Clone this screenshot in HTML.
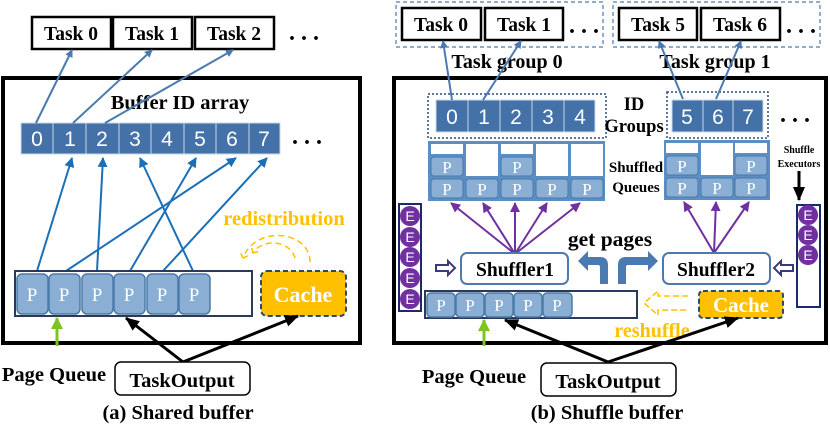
<!DOCTYPE html>
<html><head><style>
body{margin:0;background:#fff}
svg{display:block}
text{font-family:"Liberation Serif",serif;font-weight:bold}
.s{font-family:"Liberation Sans",sans-serif;font-weight:normal}
.n{font-weight:normal}
</style></head><body>
<svg width="830" height="426" viewBox="0 0 830 426" xmlns="http://www.w3.org/2000/svg">
<defs>
<marker id="ab" markerWidth="8" markerHeight="8" refX="7" refY="4" orient="auto" markerUnits="userSpaceOnUse"><path d="M0,0 L8,4 L0,8 z" fill="#4a7ab0"/></marker>
<marker id="ab2" markerWidth="10" markerHeight="10" refX="9" refY="5" orient="auto" markerUnits="userSpaceOnUse"><path d="M0,0 L10,5 L0,10 z" fill="#1a70b8"/></marker>
<marker id="ak" markerWidth="14" markerHeight="12" refX="13" refY="6" orient="auto" markerUnits="userSpaceOnUse"><path d="M0,0 L14,6 L0,12 z" fill="#000"/></marker>
<marker id="ag" markerWidth="12" markerHeight="12" refX="11" refY="6" orient="auto" markerUnits="userSpaceOnUse"><path d="M0,0 L12,6 L0,12 z" fill="#7dc41f"/></marker>
<marker id="ap" markerWidth="10" markerHeight="10" refX="9" refY="5" orient="auto" markerUnits="userSpaceOnUse"><path d="M0,0 L10,5 L0,10 z" fill="#7030a0"/></marker>
<marker id="ay" markerWidth="8" markerHeight="8" refX="4" refY="4" orient="auto" markerUnits="userSpaceOnUse"><path d="M0,0 L4,4 L0,8" fill="none" stroke="#ffc000" stroke-width="1.5"/></marker>
</defs>

<!-- LEFT PANEL -->
<rect x="3" y="78" width="357" height="265" fill="none" stroke="#000" stroke-width="4"/>
<g fill="#fff" stroke="#000" stroke-width="2.5">
<rect x="32" y="17" width="79" height="32"/><rect x="113" y="17" width="79" height="32"/><rect x="195" y="17" width="79" height="32"/>
</g>
<g font-size="19.5" text-anchor="middle"><text x="71" y="40">Task 0</text><text x="152" y="40">Task 1</text><text x="234" y="40">Task 2</text></g>
<text x="304" y="40" font-size="24" text-anchor="middle">. . .</text>
<text x="180" y="109" font-size="20.5" text-anchor="middle">Buffer ID array</text>
<g fill="#4472a8" stroke="#c8d8ea" stroke-width="1">
<rect x="21" y="123" width="32" height="31"/><rect x="53" y="123" width="33" height="31"/><rect x="86" y="123" width="33" height="31"/><rect x="119" y="123" width="32" height="31"/><rect x="151" y="123" width="33" height="31"/><rect x="184" y="123" width="32" height="31"/><rect x="216" y="123" width="33" height="31"/><rect x="249" y="123" width="31" height="31"/>
</g>
<g fill="#fff" text-anchor="middle">
<text class="s" x="37" y="146" font-size="21">0</text><text class="s" x="70" y="146" font-size="21">1</text><text class="s" x="102" y="146" font-size="21">2</text><text class="s" x="135" y="146" font-size="21">3</text><text class="s" x="167" y="146" font-size="21">4</text><text class="s" x="200" y="146" font-size="21">5</text><text class="s" x="232" y="146" font-size="21">6</text><text class="s" x="264" y="146" font-size="21">7</text>
</g>
<text x="307" y="144" font-size="24" text-anchor="middle">. . .</text>
<g stroke="#4a7ab0" stroke-width="2" marker-end="url(#ab)">
<line x1="36" y1="123" x2="72" y2="50"/><line x1="73" y1="123" x2="152" y2="50"/><line x1="105" y1="123" x2="233" y2="50"/>
</g>
<g stroke="#1a70b8" stroke-width="2" marker-end="url(#ab2)">
<line x1="37" y1="271" x2="72" y2="158"/><line x1="66" y1="271" x2="236" y2="158"/><line x1="97" y1="271" x2="103" y2="158"/><line x1="130" y1="271" x2="196" y2="158"/><line x1="163" y1="271" x2="267" y2="158"/><line x1="193" y1="271" x2="140" y2="158"/>
</g>
<rect x="15" y="271" width="237" height="45" fill="#fff" stroke="#2a3a5a" stroke-width="2"/>
<g fill="#8aaed4" stroke="#4a7aa8" stroke-width="1.5">
<rect x="17" y="274" width="31" height="40" rx="5"/><rect x="49" y="274" width="31" height="40" rx="5"/><rect x="82" y="274" width="31" height="40" rx="5"/><rect x="114" y="274" width="31" height="40" rx="5"/><rect x="147" y="274" width="31" height="40" rx="5"/><rect x="179" y="274" width="31" height="40" rx="5"/>
</g>
<g font-size="19" fill="#fff" text-anchor="middle">
<text class="n" x="32" y="301">P</text><text class="n" x="64" y="301">P</text><text class="n" x="97" y="301">P</text><text class="n" x="129" y="301">P</text><text class="n" x="162" y="301">P</text><text class="n" x="194" y="301">P</text>
</g>
<rect x="261" y="271" width="85" height="45" rx="6" fill="#ffc000" stroke="#2a4a6a" stroke-width="2" stroke-dasharray="5,3"/>
<text x="303" y="302" font-size="22" fill="#fff" text-anchor="middle">Cache</text>
<text x="284" y="225" font-size="20.5" fill="#ffc000" text-anchor="middle">redistribution</text>
<g fill="none" stroke="#ffc000" stroke-width="1.5" stroke-dasharray="6,4">
<path d="M310,262 C310,230 255,225 243,258" marker-end="url(#ay)"/>
<path d="M295,258 C290,240 262,238 253,253" marker-end="url(#ay)"/>
</g>
<line x1="57" y1="346" x2="57" y2="318" stroke="#7dc41f" stroke-width="3" marker-end="url(#ag)"/>
<g stroke="#000" stroke-width="3" marker-end="url(#ak)">
<line x1="183" y1="362" x2="126" y2="318"/><line x1="183" y1="362" x2="298" y2="316"/>
</g>
<text x="54" y="381" font-size="20.5" text-anchor="middle">Page Queue</text>
<rect x="115" y="362" width="135" height="33" rx="6" fill="#fff" stroke="#000" stroke-width="1.5"/>
<text x="182" y="387" font-size="20.5" text-anchor="middle">TaskOutput</text>
<text x="178" y="419" font-size="20.5" text-anchor="middle">(a) Shared buffer</text>

<!-- RIGHT PANEL -->
<rect x="394" y="78" width="432" height="265" fill="none" stroke="#000" stroke-width="4"/>
<g fill="none" stroke="#4a7ab0" stroke-width="1.2" stroke-dasharray="4,3">
<rect x="396" y="2" width="207" height="45"/><rect x="613" y="2" width="207" height="45"/>
</g>
<g fill="#fff" stroke="#000" stroke-width="2.5">
<rect x="402" y="8" width="79" height="32"/><rect x="485" y="8" width="78" height="32"/><rect x="619" y="8" width="78" height="32"/><rect x="701" y="8" width="79" height="32"/>
</g>
<g font-size="19.5" text-anchor="middle"><text x="441" y="31">Task 0</text><text x="524" y="31">Task 1</text><text x="658" y="31">Task 5</text><text x="740" y="31">Task 6</text></g>
<text x="584" y="33" font-size="24" text-anchor="middle">. . .</text>
<text x="801" y="33" font-size="24" text-anchor="middle">. . .</text>
<text x="507" y="68" font-size="20" text-anchor="middle">Task group 0</text>
<text x="715" y="68" font-size="20" text-anchor="middle">Task group 1</text>
<g fill="none" stroke="#2a4a7a" stroke-width="1.5" stroke-dasharray="2,2">
<rect x="428" y="94" width="178" height="44"/><rect x="667" y="92" width="101" height="46"/>
</g>
<g fill="#4472a8" stroke="#c8d8ea" stroke-width="1">
<rect x="436" y="100" width="32" height="32"/><rect x="468" y="100" width="32" height="32"/><rect x="500" y="100" width="32" height="32"/><rect x="532" y="100" width="32" height="32"/><rect x="564" y="100" width="31" height="32"/>
<rect x="672" y="100" width="31" height="32"/><rect x="703" y="100" width="30" height="32"/><rect x="733" y="100" width="30" height="32"/>
</g>
<g fill="#fff" text-anchor="middle">
<text class="s" x="452" y="124" font-size="21">0</text><text class="s" x="484" y="124" font-size="21">1</text><text class="s" x="516" y="124" font-size="21">2</text><text class="s" x="548" y="124" font-size="21">3</text><text class="s" x="580" y="124" font-size="21">4</text>
<text class="s" x="687" y="124" font-size="21">5</text><text class="s" x="718" y="124" font-size="21">6</text><text class="s" x="748" y="124" font-size="21">7</text>
</g>
<text x="634" y="110" font-size="18.5" text-anchor="middle">ID</text>
<text x="634" y="132" font-size="18.5" text-anchor="middle">Groups</text>
<text x="795" y="122" font-size="24" text-anchor="middle">. . .</text>
<g stroke="#4a7ab0" stroke-width="2" marker-end="url(#ab)">
<line x1="452" y1="100" x2="443" y2="41"/><line x1="483" y1="100" x2="521" y2="41"/><line x1="683" y1="99" x2="659" y2="41"/><line x1="716" y1="99" x2="741" y2="41"/>
</g>
<!-- shuffled queues -->
<rect x="428" y="141" width="177" height="60" fill="#5b8ec4"/>
<rect x="664" y="140" width="106" height="60" fill="#5b8ec4"/>
<g fill="#fff">
<rect x="431" y="144" width="32" height="10"/><rect x="466" y="144" width="32" height="32"/><rect x="501" y="144" width="32" height="10"/><rect x="536" y="144" width="32" height="32"/><rect x="571" y="144" width="32" height="32"/>
<rect x="666" y="143" width="32" height="10"/><rect x="701" y="143" width="32" height="32"/><rect x="735" y="143" width="32" height="10"/>
</g>
<g fill="#8aaed4" stroke="#4a7aa8" stroke-width="1">
<rect x="431" y="157" width="32" height="19" rx="3"/><rect x="501" y="157" width="32" height="19" rx="3"/>
<rect x="431" y="179" width="32" height="19" rx="3"/><rect x="466" y="179" width="32" height="19" rx="3"/><rect x="501" y="179" width="32" height="19" rx="3"/><rect x="536" y="179" width="32" height="19" rx="3"/><rect x="571" y="179" width="32" height="19" rx="3"/>
<rect x="666" y="156" width="32" height="19" rx="3"/><rect x="735" y="156" width="32" height="19" rx="3"/>
<rect x="666" y="178" width="32" height="19" rx="3"/><rect x="701" y="178" width="32" height="19" rx="3"/><rect x="735" y="178" width="32" height="19" rx="3"/>
</g>
<g fill="#fff" font-size="17" text-anchor="middle">
<text class="n" x="447" y="173">P</text><text class="n" x="517" y="173">P</text>
<text class="n" x="447" y="195">P</text><text class="n" x="482" y="195">P</text><text class="n" x="517" y="195">P</text><text class="n" x="552" y="195">P</text><text class="n" x="587" y="195">P</text>
<text class="n" x="682" y="172">P</text><text class="n" x="751" y="172">P</text>
<text class="n" x="682" y="194">P</text><text class="n" x="717" y="194">P</text><text class="n" x="751" y="194">P</text>
</g>
<text x="636" y="172" font-size="15" text-anchor="middle">Shuffled</text>
<text x="636" y="192" font-size="15" text-anchor="middle">Queues</text>
<text x="799" y="153" font-size="10" text-anchor="middle">Shuffle</text>
<text x="799" y="167" font-size="10" text-anchor="middle">Executors</text>
<line x1="799" y1="171" x2="799" y2="200" stroke="#000" stroke-width="3" marker-end="url(#ak)"/>
<!-- purple arrows -->
<g stroke="#7030a0" stroke-width="2" marker-end="url(#ap)">
<line x1="515" y1="254" x2="451" y2="203"/><line x1="515" y1="254" x2="483" y2="203"/><line x1="515" y1="254" x2="515" y2="203"/><line x1="515" y1="254" x2="547" y2="203"/><line x1="515" y1="254" x2="580" y2="203"/>
<line x1="714" y1="253" x2="684" y2="202"/><line x1="714" y1="253" x2="716" y2="202"/><line x1="714" y1="253" x2="749" y2="202"/>
</g>
<!-- E columns -->
<rect x="399" y="204" width="22" height="107" fill="#fff" stroke="#1a2a6a" stroke-width="2"/>
<rect x="797" y="205" width="23" height="102" fill="#fff" stroke="#1a2a6a" stroke-width="2"/>
<g fill="#7030a0">
<circle cx="410" cy="216" r="10"/><circle cx="410" cy="237" r="10"/><circle cx="410" cy="257" r="10"/><circle cx="410" cy="278" r="10"/><circle cx="410" cy="299" r="10"/>
<circle cx="808" cy="215" r="10"/><circle cx="808" cy="235" r="10"/><circle cx="808" cy="255" r="10"/>
</g>
<g fill="#fff" text-anchor="middle">
<text class="s" x="410" y="221" font-size="14">E</text><text class="s" x="410" y="242" font-size="14">E</text><text class="s" x="410" y="262" font-size="14">E</text><text class="s" x="410" y="283" font-size="14">E</text><text class="s" x="410" y="304" font-size="14">E</text>
<text class="s" x="808" y="220" font-size="14">E</text><text class="s" x="808" y="240" font-size="14">E</text><text class="s" x="808" y="260" font-size="14">E</text>
</g>
<!-- hollow arrows -->
<path d="M436,265 L448,265 L448,261 L455,268 L448,275 L448,271 L436,271 Z" fill="#fff" stroke="#3a3a7a" stroke-width="2"/>
<path d="M793,265 L781,265 L781,261 L774,268 L781,275 L781,271 L793,271 Z" fill="#fff" stroke="#3a3a7a" stroke-width="2"/>
<text x="610" y="246" font-size="21.5" text-anchor="middle">get pages</text>
<rect x="461" y="253" width="107" height="31" rx="6" fill="#fff" stroke="#4a7ab0" stroke-width="2"/>
<rect x="663" y="253" width="107" height="31" rx="6" fill="#fff" stroke="#4a7ab0" stroke-width="2"/>
<text x="515" y="276" font-size="19.5" text-anchor="middle">Shuffler1</text>
<text x="716" y="276" font-size="19.5" text-anchor="middle">Shuffler2</text>
<!-- bent blue arrows -->
<path d="M608,287 L608,268 Q608,260 600,260 L588,260 L588,254 L578,264 L588,274 L588,268 L598,268 Q600,268 600,270 L600,287 Z" fill="#4a7ab0" transform="translate(0,-3)"/>
<path d="M618,287 L618,268 Q618,260 626,260 L648,260 L648,254 L658,264 L648,274 L648,268 L628,268 Q626,268 626,270 L626,287 Z" fill="#4a7ab0" transform="translate(0,-3)"/>
<!-- page queue -->
<rect x="425" y="291" width="212" height="27" fill="#fff" stroke="#2a3a5a" stroke-width="2"/>
<g fill="#8aaed4" stroke="#4a7aa8" stroke-width="1.5">
<rect x="427" y="293" width="28" height="24" rx="4"/><rect x="456" y="293" width="28" height="24" rx="4"/><rect x="485" y="293" width="28" height="24" rx="4"/><rect x="514" y="293" width="28" height="24" rx="4"/><rect x="543" y="293" width="29" height="24" rx="4"/>
</g>
<g fill="#fff" font-size="17" text-anchor="middle">
<text class="n" x="441" y="311">P</text><text class="n" x="470" y="311">P</text><text class="n" x="499" y="311">P</text><text class="n" x="528" y="311">P</text><text class="n" x="557" y="311">P</text>
</g>
<rect x="699" y="291" width="84" height="27" rx="4" fill="#ffc000" stroke="#2a4a6a" stroke-width="2" stroke-dasharray="5,3"/>
<text x="741" y="312" font-size="21" fill="#fff" text-anchor="middle">Cache</text>
<path d="M688,296 L658,296 L658,291 L644,303 L658,315 L658,310 L688,310" fill="none" stroke="#ffc000" stroke-width="1.5" stroke-dasharray="6,3"/>
<text x="652" y="337" font-size="20" fill="#ffc000" text-anchor="middle">reshuffle</text>
<line x1="484" y1="346" x2="484" y2="320" stroke="#7dc41f" stroke-width="3" marker-end="url(#ag)"/>
<g stroke="#000" stroke-width="3" marker-end="url(#ak)">
<line x1="608" y1="362" x2="505" y2="320"/><line x1="608" y1="362" x2="738" y2="318"/>
</g>
<text x="474" y="383" font-size="20.5" text-anchor="middle">Page Queue</text>
<rect x="541" y="363" width="135" height="33" rx="6" fill="#fff" stroke="#000" stroke-width="1.5"/>
<text x="608" y="388" font-size="20.5" text-anchor="middle">TaskOutput</text>
<text x="607" y="419" font-size="20.5" text-anchor="middle">(b) Shuffle buffer</text>
</svg>
</body></html>
